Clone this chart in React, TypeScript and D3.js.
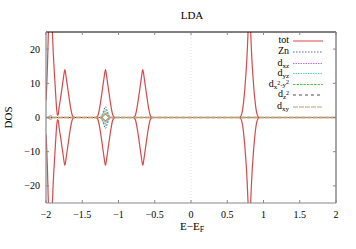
import React from "react";
import * as d3 from "d3";

// total DOS (spin up); spin down is the mirror image
const totE = [-2, -1.99, -1.98, -1.97, -1.96, -1.95, -1.94, -1.93, -1.92, -1.91, -1.9, -1.89, -1.88, -1.87, -1.86, -1.85, -1.84, -1.83, -1.82, -1.8, -1.78, -1.76, -1.74, -1.72, -1.7, -1.68, -1.66, -1.64, -1.62, -1.6,
  -1.32, -1.3, -1.28, -1.26, -1.24, -1.22, -1.2, -1.18, -1.16, -1.14, -1.12, -1.1, -1.08, -1.06, -1.04,
  -0.805, -0.785, -0.765, -0.745, -0.725, -0.705, -0.685, -0.665, -0.645, -0.625, -0.605, -0.585, -0.565, -0.545, -0.525,
  0.665, 0.685, 0.705, 0.725, 0.745, 0.755, 0.765, 0.775, 0.785, 0.795, 0.805, 0.815, 0.825, 0.835, 0.845, 0.855, 0.865, 0.885, 0.905, 0.925, 0.945, 2];
const totV = [5, 9, 15, 23, 30, 35, 37, 34, 29, 24, 19, 15, 11.5, 8, 4.5, 1.8, 0.6, 1.0, 2.8, 5.5, 8.5, 11.5, 14, 11.5, 8.5, 5.5, 2.8, 0.8, 0.1, 0,
  0, 0.1, 0.8, 2.8, 5.5, 8.5, 11.5, 14, 11.5, 8.5, 5.5, 2.8, 0.8, 0.1, 0,
  0, 0.1, 0.8, 2.8, 5.5, 8.5, 11.5, 14, 11.5, 8.5, 5.5, 2.8, 0.8, 0.1, 0,
  0, 0.3, 1.5, 4.5, 9, 12, 15, 19, 24, 29, 34, 29, 24, 19, 15, 12, 9, 4.5, 1.5, 0.3, 0, 0];

// partial DOS (spin up)
const znE = [-2, -1.97, -1.955, -1.94, -1.925, -1.91, -1.24, -1.22, -1.2, -1.18, -1.16, -1.14, -1.12, 2];
const znV = [0, 0, 0.4, 0.7, 0.4, 0, 0, 1.0, 2.2, 3.2, 2.2, 1.0, 0, 0];
const dxzE = [-2, -1.24, -1.22, -1.2, -1.18, -1.16, -1.14, -1.12, 2];
const dxzV = [0, 0, 0.5, 1.0, 1.3, 1.0, 0.5, 0, 0];
const dyzE = [-2, -1.25, -1.23, -1.21, -1.19, -1.17, -1.15, -1.13, -1.11, 2];
const dyzV = [0, 0, 0.6, 1.3, 1.8, 1.6, 1.0, 0.4, 0, 0];
const dx2y2E = [-2, -1.25, -1.22, -1.2, -1.18, -1.16, -1.14, -1.11, 2];
const dx2y2V = [0, 0, 0.8, 1.6, 2.3, 1.6, 0.8, 0, 0];
const dz2E = [-2, -1.95, -1.94, -1.93, -1.23, -1.2, -1.18, -1.16, -1.13, 0.79, 0.8, 0.81, 2];
const dz2V = [0, 0, 0.3, 0, 0, 0.6, 0.9, 0.6, 0, 0, 0.2, 0, 0];
const dxyE = [-2, -1.23, -1.2, -1.18, -1.16, -1.13, 2];
const dxyV = [0, 0, 0.7, 1.1, 0.7, 0, 0];

const xTicks = [-2, -1.5, -1, -0.5, 0, 0.5, 1, 1.5, 2];
const yTicks = [-20, -10, 0, 10, 20];

const series = [
  { key: "tot", e: totE, v: totV, color: "#d84848", dash: "", width: 1.2 },
  { key: "Zn", e: znE, v: znV, color: "#6060b0", dash: "1.5,1.5", width: 1 },
  { key: "dxz", e: dxzE, v: dxzV, color: "#d070d0", dash: "1.5,1", width: 1 },
  { key: "dyz", e: dyzE, v: dyzV, color: "#50d0d8", dash: "1.5,1", width: 1 },
  { key: "dx2y2", e: dx2y2E, v: dx2y2V, color: "#50c050", dash: "2.5,1", width: 1 },
  { key: "dz2", e: dz2E, v: dz2V, color: "#505050", dash: "3,3", width: 1 },
  { key: "dxy", e: dxyE, v: dxyV, color: "#c89a70", dash: "5,1", width: 1.3 },
];

const font = "'Times New Roman', 'Liberation Serif', 'DejaVu Serif', serif";

const minus = (n: number) => String(n).replace("-", "\u2212");

export default function App() {
  const W = 356, H = 249;
  const left = 46, right = 336, top = 32, bottom = 203;
  const x = d3.scaleLinear().domain([-2, 2]).range([left, right]);
  const y = d3.scaleLinear().domain([-25, 25]).range([bottom, top]);
  const line = d3
    .line<[number, number]>()
    .x((d) => x(d[0]))
    .y((d) => y(d[1]))
    .curve(d3.curveMonotoneX);

  const sub = { fontSize: 7 };
  const legendLabels: React.ReactNode[] = [
    <tspan>tot</tspan>,
    <tspan>Zn</tspan>,
    <><tspan>d</tspan><tspan dy="2" {...sub}>xz</tspan></>,
    <><tspan>d</tspan><tspan dy="2" {...sub}>yz</tspan></>,
    <><tspan>d</tspan><tspan dy="2" {...sub}>x</tspan><tspan dy="-4" fontSize={6}>2</tspan><tspan dy="2" {...sub}>-y</tspan><tspan dy="-3" fontSize={6}>2</tspan></>,
    <><tspan>d</tspan><tspan dy="2" {...sub}>z</tspan><tspan dy="-4" fontSize={6}>2</tspan></>,
    <><tspan>d</tspan><tspan dy="2" {...sub}>xy</tspan></>,
  ];
  const legendY = [41, 52, 63.5, 73.5, 84.5, 95, 107];

  return (
    <svg width={W} height={H} style={{ position: "absolute", left: 0, top: 0, background: "#fff", fontFamily: font }}>
      <defs>
        <clipPath id="plot">
          <rect x={left} y={top} width={right - left} height={bottom - top} />
        </clipPath>
      </defs>
      <text x={192} y={19} textAnchor="middle" fontSize={11}>LDA</text>

      {/* zero energy marker */}
      <line x1={x(0)} x2={x(0)} y1={top} y2={bottom} stroke="#ccc" strokeWidth={0.6} strokeDasharray="1,2" />

      <g clipPath="url(#plot)">
        {series.map((s) => {
          const up = s.e.map((e, i) => [e, s.v[i]] as [number, number]);
          const down = s.e.map((e, i) => [e, -s.v[i]] as [number, number]);
          return (
            <g key={s.key} fill="none" stroke={s.color} strokeWidth={s.width} strokeDasharray={s.dash || undefined}>
              <path d={line(up) || ""} />
              <path d={line(down) || ""} />
            </g>
          );
        })}
      </g>

      {/* frame */}
      <line x1={left} x2={right} y1={top} y2={top} stroke="#000" strokeWidth={1} />
      <line x1={left} x2={left} y1={top} y2={bottom} stroke="#888" strokeWidth={1.2} />
      <line x1={right} x2={right} y1={top} y2={bottom} stroke="#888" strokeWidth={1.5} />
      <line x1={left} x2={right} y1={bottom} y2={bottom} stroke="#888" strokeWidth={1.2} />

      {xTicks.map((t) => (
        <g key={"x" + t}>
          <line x1={x(t)} x2={x(t)} y1={bottom} y2={bottom - 3} stroke="#888" />
          <line x1={x(t)} x2={x(t)} y1={top} y2={top + 3} stroke="#888" />
          <text x={x(t)} y={218} textAnchor="middle" fontSize={10}>{minus(t)}</text>
        </g>
      ))}
      {yTicks.map((t) => (
        <g key={"y" + t}>
          <line x1={left} x2={left + 3} y1={y(t)} y2={y(t)} stroke="#888" />
          <line x1={right} x2={right - 3} y1={y(t)} y2={y(t)} stroke="#888" />
          <text x={40} y={y(t) + 3.5} textAnchor="end" fontSize={10}>{minus(t)}</text>
        </g>
      ))}

      <text transform={`translate(12,${(top + bottom) / 2}) rotate(-90)`} textAnchor="middle" fontSize={11}>DOS</text>
      <text x={180} y={230} fontSize={11}>E{"\u2212"}E<tspan dy="2" fontSize={8}>F</tspan></text>

      {series.map((s, i) => (
        <g key={"leg" + s.key}>
          <text x={289} y={legendY[i] + 2} textAnchor="end" fontSize={10}>{legendLabels[i]}</text>
          <line x1={293} x2={323} y1={legendY[i]} y2={legendY[i]} stroke={s.color} strokeWidth={1} strokeDasharray={s.dash || undefined} />
        </g>
      ))}
    </svg>
  );
}
